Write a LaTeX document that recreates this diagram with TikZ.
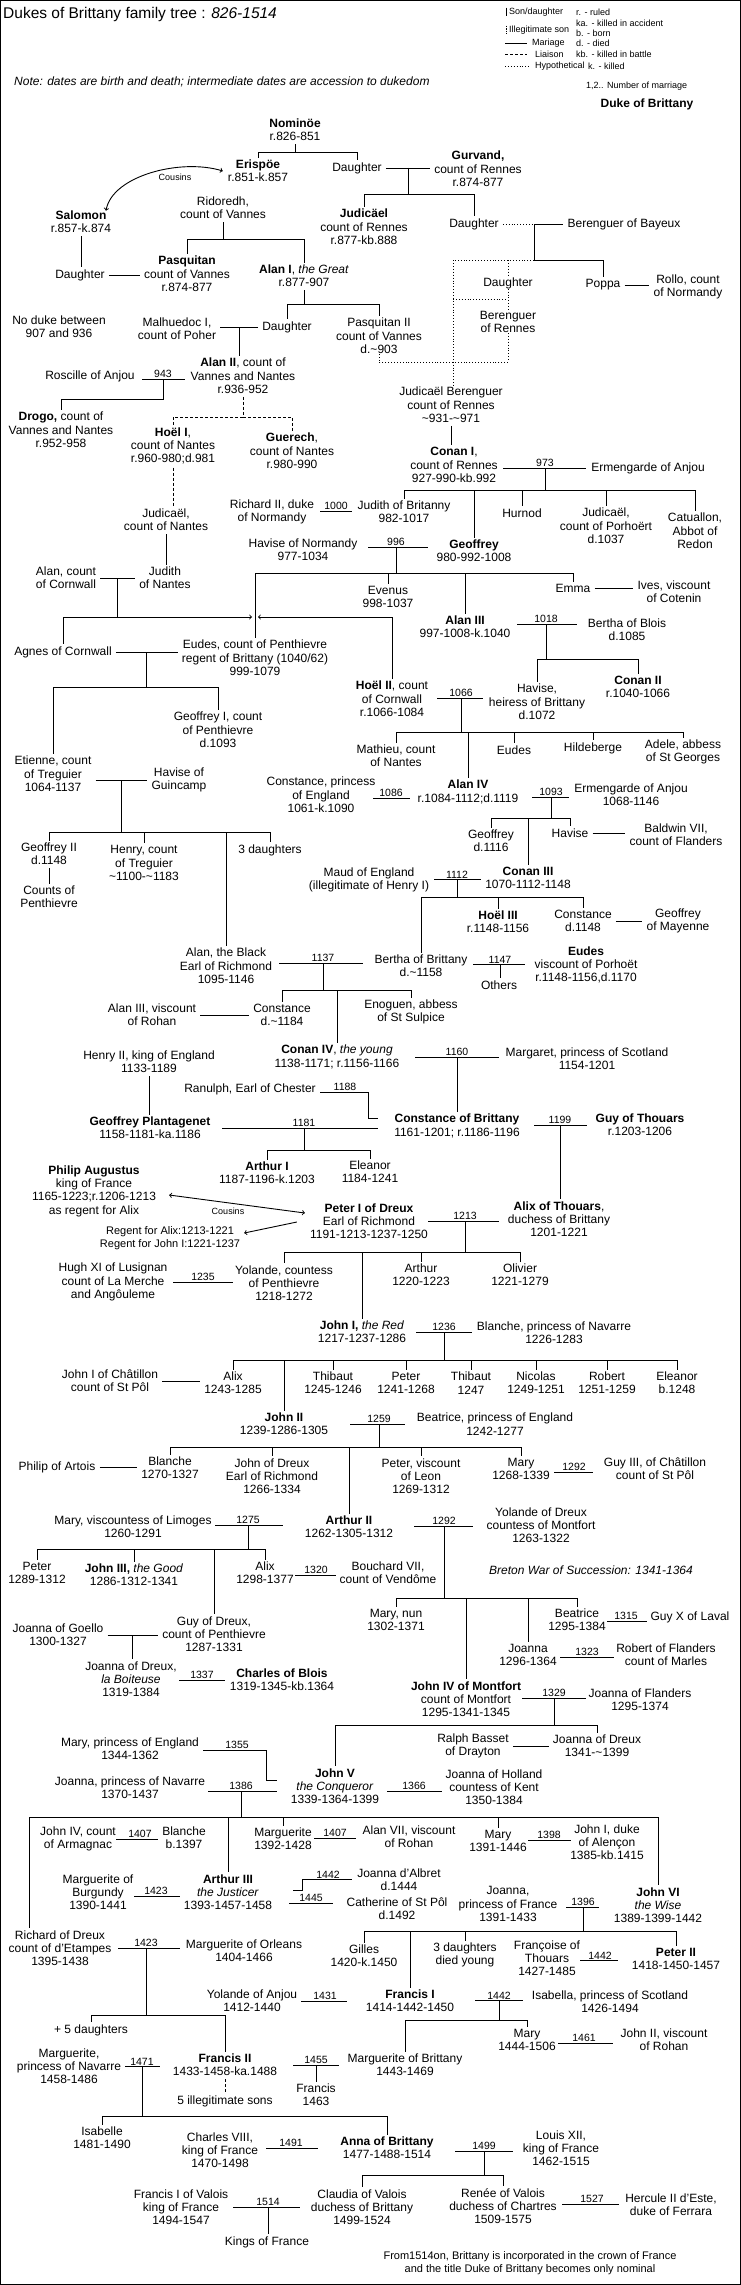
\documentclass[tikz,border=0pt]{standalone}
\usepackage{fontspec}
\setmainfont{Liberation Sans}
\newcommand\nmfont{\fontsize{12}{13.3}\selectfont}
\newcommand\yrfont{\fontsize{10.5}{12}\selectfont}
\newcommand\lgfont{\fontsize{9}{11}\selectfont}
\newcommand\smfont{\fontsize{11}{12.4}\selectfont}
\newcommand\ttlfont{\fontsize{15.5}{18}\selectfont}

\begin{document}
\begin{tikzpicture}[x=1pt, y=-1pt]
\tikzset{person/.style = {align=center, inner sep=0pt, font=\nmfont}}
\tikzset{yr/.style = {anchor=south, inner sep=0.8pt, font=\yrfont}}
\tikzset{legend/.style = {anchor=west, inner sep=0pt, font=\lgfont}}
\tikzset{edge/.style = {line width=0.9pt}}
\tikzset{wed/.style = {edge, shorten <=4pt, shorten >=4pt}}
\tikzset{kin/.style = {edge, shorten <=3pt, shorten >=2pt}}
\tikzset{issue/.style = {edge, shorten >=2pt}}
\tikzset{lkin/.style = {kin, dash pattern=on 3pt off 2pt}}
\tikzset{hypo/.style = {edge, dotted}}
\useasboundingbox (0,0) rectangle (741,2285);
\draw[line width=1pt] (0.5,0.5) rectangle (740.5,2284.5);
% header and legend
\node[anchor=west, inner sep=0pt, font=\ttlfont] (title) at (3,14) {Dukes of Brittany family tree : \textit{826-1514}};
\node[anchor=west, inner sep=0pt, font=\nmfont\itshape] (note) at (14,82) {Note: dates are birth and death; intermediate dates are accession to dukedom};
\node[legend] (lgson) at (509,12) {Son/daughter};
\draw[edge] ([xshift=-3pt]lgson.north west) -- ([xshift=-3pt]lgson.south west);
\node[legend] (lgill) at (509,30) {Illegitimate son};
\draw[edge, dash pattern=on 1.5pt off 1pt] ([xshift=-3pt]lgill.north west) -- ([xshift=-3pt]lgill.south west);
\node[legend] (lgmar) at (532,43) {Mariage};
\draw[edge] ([xshift=-27pt]lgmar.west) -- ([xshift=-5pt]lgmar.west);
\node[legend] (lglia) at (535,54) {Liaison};
\draw[edge, dash pattern=on 3pt off 2pt] ([xshift=-30pt]lglia.west) -- ([xshift=-8pt]lglia.west);
\node[legend] (lghyp) at (535,66) {Hypothetical};
\draw[edge, dotted] ([xshift=-30pt]lghyp.west) -- ([xshift=-5pt]lghyp.west);
\node[legend] (lgr) at (576,12) {r. - ruled};
\node[legend] (lgka) at (576,23) {ka. - killed in accident};
\node[legend] (lgb) at (576,33) {b. - born};
\node[legend] (lgd) at (576,43) {d. - died};
\node[legend] (lgkb) at (576,54) {kb. - killed in battle};
\node[legend] (lgk) at (588,66) {k. - killed};
\node[legend] (lgnum) at (586,86) {1,2.. Number of marriage};
\node[person] (lgduke) at (647,104) {\textbf{Duke of Brittany}};
% persons
\node[person] (nominoe) at (295,130) {\textbf{Nominöe}\\r.826-851};
\node[person] (erispoe) at (258,171) {\textbf{Erispöe}\\r.851-k.857};
\node[person] (daughtera) at (357,168) {Daughter};
\node[person] (gurvand) at (478,169) {\textbf{Gurvand,}\\count of Rennes\\r.874-877};
\node[person] (salomon) at (81,222) {\textbf{Salomon}\\r.857-k.874};
\node[person] (ridoredh) at (223,208) {Ridoredh,\\count of Vannes};
\node[person] (judicael) at (364,227) {\textbf{Judicäel}\\count of Rennes\\r.877-kb.888};
\node[person] (daughterb) at (474,224) {Daughter};
\node[person] (berenguerb) at (624,224) {Berenguer of Bayeux};
\node[person] (daughters) at (80,275) {Daughter};
\node[person] (pasquitan) at (187,274) {\textbf{Pasquitan}\\count of Vannes\\r.874-877};
\node[person] (alan1) at (304,276) {\textbf{Alan I}, \textit{the Great}\\r.877-907};
\node[person] (daughterc) at (508,283) {Daughter};
\node[person] (poppa) at (603,285) {Poppa};
\node[person] (rollo) at (688,287) {Rollo, count\\of Normandy};
\node[person] (nodukes) at (59,327) {No duke between\\907 and 936};
\node[person] (malhuedoc) at (177,329) {Malhuedoc I,\\count of Poher};
\node[person] (daughterd) at (287,327) {Daughter};
\node[person] (pasquitan2) at (379,336) {Pasquitan II\\count of Vannes\\d.\textasciitilde903};
\node[person] (berengerr) at (508,322) {Berenguer\\of Rennes};
\node[person] (roscille) at (90,376) {Roscille of Anjou};
\node[person] (alan2) at (243,376) {\textbf{Alan II}, count of\\Vannes and Nantes\\r.936-952};
\node[person] (judber) at (451,405) {Judicaël Berenguer\\count of Rennes\\\textasciitilde931-\textasciitilde971};
\node[person] (drogo) at (61,430) {\textbf{Drogo,} count of\\Vannes and Nantes\\r.952-958};
\node[person] (hoel1) at (173,446) {\textbf{Hoël I},\\count of Nantes\\r.960-980;d.981};
\node[person] (guerech) at (292,451) {\textbf{Guerech},\\count of Nantes\\r.980-990};
\node[person] (conan1) at (454,465) {\textbf{Conan I},\\count of Rennes\\927-990-kb.992};
\node[person] (ermengardea) at (648,468) {Ermengarde of Anjou};
\node[person] (richard2) at (272,512) {Richard II, duke\\of Normandy};
\node[person] (judithb) at (404,512) {Judith of Britanny\\982-1017};
\node[person] (hurnod) at (522,513) {Hurnod};
\node[person] (judpor) at (606,526) {Judicaël,\\count of Porhoërt\\d.1037};
\node[person] (catuallon) at (695,531) {Catuallon,\\Abbot of\\Redon};
\node[person] (havisen) at (303,550) {Havise of Normandy\\977-1034};
\node[person] (geoffrey) at (474,551) {\textbf{Geoffrey}\\980-992-1008};
\node[person] (judnan) at (166,520) {Judicaël,\\count of Nantes};
\node[person] (alanc) at (66,578) {Alan, count\\of Cornwall};
\node[person] (judithn) at (165,578) {Judith\\of Nantes};
\node[person] (evenus) at (388,597) {Evenus\\998-1037};
\node[person] (emma) at (573,588) {Emma};
\node[person] (ives) at (674,592) {Ives, viscount\\of Cotenin};
\node[person] (alan3) at (465,627) {\textbf{Alan III}\\997-1008-k.1040};
\node[person] (bertha) at (627,630) {Bertha of Blois\\d.1085};
\node[person] (agnes) at (63,652) {Agnes of Cornwall};
\node[person] (eudesp) at (255,658) {Eudes, count of Penthievre\\regent of Brittany (1040/62)\\999-1079};
\node[person] (conan2) at (638,687) {\textbf{Conan II}\\r.1040-1066};
\node[person] (hoel2) at (392,699) {\textbf{Hoël II}, count\\of Cornwall\\r.1066-1084};
\node[person] (havise) at (537,702) {Havise,\\heiress of Brittany\\d.1072};
\node[person] (geoffrey1) at (218,730) {Geoffrey I, count\\of Penthievre\\d.1093};
\node[person] (mathieu) at (396,756) {Mathieu, count\\of Nantes};
\node[person] (eudes) at (514,750) {Eudes};
\node[person] (hildeberge) at (593,748) {Hildeberge};
\node[person] (adele) at (683,752) {Adele, abbess\\of St Georges};
\node[person] (etienne) at (53,774) {Etienne, count\\of Treguier\\1064-1137};
\node[person] (haviseg) at (179,780) {Havise of\\Guincamp};
\node[person] (constancee) at (321,795) {Constance, princess\\of England\\1061-k.1090};
\node[person] (alan4) at (468,792) {\textbf{Alan IV}\\r.1084-1112;d.1119};
\node[person] (ermengardeb) at (631,795) {Ermengarde of Anjou\\1068-1146};
\node[person] (geoffrey2) at (49,854) {Geoffrey II\\d.1148};
\node[person] (henry) at (144,863) {Henry, count\\of Treguier\\\textasciitilde1100-\textasciitilde1183};
\node[person] (daughters3) at (270,850) {3 daughters};
\node[person] (geoffreyd) at (491,841) {Geoffrey\\d.1116};
\node[person] (havisef) at (570,833) {Havise};
\node[person] (baldwin) at (676,835) {Baldwin VII,\\count of Flanders};
\node[person] (conan3) at (528,878) {\textbf{Conan III}\\1070-1112-1148};
\node[person] (maud) at (369,880) {Maud of England\\(illegitimate of Henry I)};
\node[person] (countsp) at (49,897) {Counts of\\Penthievre};
\node[person] (hoel3) at (498,922) {\textbf{Hoël III}\\r.1148-1156};
\node[person] (constanced) at (583,921) {Constance\\d.1148};
\node[person] (geoffreym) at (678,921) {Geoffrey\\of Mayenne};
\node[person] (alanb) at (226,966) {Alan, the Black\\Earl of Richmond\\1095-1146};
\node[person] (berthab) at (421,966) {Bertha of Brittany\\d.\textasciitilde1158};
\node[person] (eudesv) at (586,965) {\textbf{Eudes}\\viscount of Porhoët\\r.1148-1156,d.1170};
\node[person] (others) at (499,985) {Others};
\node[person] (alan3r) at (152,1015) {Alan III, viscount\\of Rohan};
\node[person] (constancer) at (282,1015) {Constance\\d.\textasciitilde1184};
\node[person] (enoguen) at (411,1012) {Enoguen, abbess\\of St Sulpice};
\node[person] (conan4) at (337,1057) {\textbf{Conan IV}, \textit{the young}\\1138-1171; r.1156-1166};
\node[person] (margaret) at (587,1059) {Margaret, princess of Scotland\\1154-1201};
\node[person] (henry2) at (149,1062) {Henry II, king of England\\1133-1189};
\node[person] (ranulph) at (250,1089) {Ranulph, Earl of Chester};
\node[person] (geoffreyp) at (150,1128) {\textbf{Geoffrey Plantagenet}\\1158-1181-ka.1186};
\node[person] (constanceb) at (457,1126) {\textbf{Constance of Brittany}\\1161-1201; r.1186-1196};
\node[person] (guy) at (640,1125) {\textbf{Guy of Thouars}\\r.1203-1206};
\node[person] (arthur1) at (267,1173) {\textbf{Arthur I}\\1187-1196-k.1203};
\node[person] (eleanor) at (370,1172) {Eleanor\\1184-1241};
\node[person] (philip) at (94,1191) {\textbf{Philip Augustus}\\king of France\\1165-1223;r.1206-1213\\as regent for Alix};
\node[person, font=\smfont] (regent) at (170,1238) {Regent for Alix:1213-1221\\Regent for John I:1221-1237};
\node[person] (peter1) at (369,1221) {\textbf{Peter I of Dreux}\\Earl of Richmond\\1191-1213-1237-1250};
\node[person] (alix) at (559,1219) {\textbf{Alix of Thouars},\\duchess of Brittany\\1201-1221};
\node[person] (hugh) at (113,1282) {Hugh XI of Lusignan\\count of La Merche\\and Angôuleme};
\node[person] (yolande) at (284,1283) {Yolande, countess\\of Penthievre\\1218-1272};
\node[person] (arthur) at (421,1275) {Arthur\\1220-1223};
\node[person] (olivier) at (520,1275) {Olivier\\1221-1279};
\node[person] (john1) at (362,1332) {\textbf{John I,} \textit{the Red}\\1217-1237-1286};
\node[person] (blanchen) at (554,1333) {Blanche, princess of Navarre\\1226-1283};
\node[person] (johnc) at (110,1381) {John I of Châtillon\\count of St Pôl};
\node[person] (alixb) at (233,1383) {Alix\\1243-1285};
\node[person] (thibauta) at (333,1383) {Thibaut\\1245-1246};
\node[person] (peterb) at (406,1383) {Peter\\1241-1268};
\node[person] (thibautb) at (471,1383) {Thibaut\\1247};
\node[person] (nicolas) at (536,1383) {Nicolas\\1249-1251};
\node[person] (robert) at (607,1383) {Robert\\1251-1259};
\node[person] (eleanorb) at (677,1383) {Eleanor\\b.1248};
\node[person] (john2) at (284,1424) {\textbf{John II}\\1239-1286-1305};
\node[person] (beatrice) at (495,1424) {Beatrice, princess of England\\1242-1277};
\node[person] (philipa) at (57,1467) {Philip of Artois};
\node[person] (blanche) at (170,1468) {Blanche\\1270-1327};
\node[person] (johnd) at (272,1476) {John of Dreux\\Earl of Richmond\\1266-1334};
\node[person] (peterv) at (421,1476) {Peter, viscount\\of Leon\\1269-1312};
\node[person] (mary) at (521,1469) {Mary\\1268-1339};
\node[person] (guy3) at (655,1469) {Guy III, of Châtillon\\count of St Pôl};
\node[person] (maryl) at (133,1527) {Mary, viscountess of Limoges\\1260-1291};
\node[person] (arthur2) at (349,1527) {\textbf{Arthur II}\\1262-1305-1312};
\node[person] (yolanded) at (541,1525) {Yolande of Dreux\\countess of Montfort\\1263-1322};
\node[person] (peterc) at (37,1573) {Peter\\1289-1312};
\node[person] (john3) at (134,1575) {\textbf{John III,} \textit{the Good}\\1286-1312-1341};
\node[person] (alixc) at (265,1573) {Alix\\1298-1377};
\node[person] (bouchard) at (388,1573) {Bouchard VII,\\count of Vendôme};
\node[person] (breton) at (591,1570) {\textit{Breton War of Succession: 1341-1364}};
\node[person] (marynun) at (396,1620) {Mary, nun\\1302-1371};
\node[person] (beatriceb) at (577,1620) {Beatrice\\1295-1384};
\node[person] (guyx) at (690,1617) {Guy X of Laval};
\node[person] (guyd) at (214,1634) {Guy of Dreux,\\count of Penthievre\\1287-1331};
\node[person] (joannag) at (58,1635) {Joanna of Goello\\1300-1327};
\node[person] (joannab) at (528,1655) {Joanna\\1296-1364};
\node[person] (robertf) at (666,1655) {Robert of Flanders\\count of Marles};
\node[person] (joannad) at (131,1679) {Joanna of Dreux,\\\textit{la Boiteuse}\\1319-1384};
\node[person] (charles) at (282,1680) {\textbf{Charles of Blois}\\1319-1345-kb.1364};
\node[person] (john4) at (466,1699) {\textbf{John IV of Montfort}\\count of Montfort\\1295-1341-1345};
\node[person] (joannaf) at (640,1700) {Joanna of Flanders\\1295-1374};
\node[person] (ralph) at (473,1746) {Ralph Basset\\of Drayton};
\node[person] (joannadr) at (597,1746) {Joanna of Dreux\\1341-\textasciitilde1399};
\node[person] (marye) at (130,1749) {Mary, princess of England\\1344-1362};
\node[person] (joannan) at (130,1788) {Joanna, princess of Navarre\\1370-1437};
\node[person] (john5) at (335,1786) {\textbf{John V}\\\textit{the Conqueror}\\1339-1364-1399};
\node[person] (joannah) at (494,1787) {Joanna of Holland\\countess of Kent\\1350-1384};
\node[person] (john4a) at (78,1839) {John IV, count\\of Armagnac};
\node[person] (blancheb) at (184,1838) {Blanche\\b.1397};
\node[person] (marguerite) at (283,1839) {Marguerite\\1392-1428};
\node[person] (alan7) at (409,1837) {Alan VII, viscount\\of Rohan};
\node[person] (marya) at (498,1841) {Mary\\1391-1446};
\node[person] (john1a) at (607,1842) {John I, duke\\of Alençon\\1385-kb.1415};
\node[person] (margueriteb) at (98,1892) {Marguerite of\\Burgundy\\1390-1441};
\node[person] (arthur3) at (228,1892) {\textbf{Arthur III}\\\textit{the Justicer}\\1393-1457-1458};
\node[person] (joannaa) at (399,1880) {Joanna d’Albret\\d.1444};
\node[person] (catherine) at (397,1909) {Catherine of St Pôl\\d.1492};
\node[person] (joannafr) at (508,1904) {Joanna,\\princess of France\\1391-1433};
\node[person] (john6) at (658,1905) {\textbf{John VI}\\\textit{the Wise}\\1389-1399-1442};
\node[person] (richard) at (60,1948) {Richard of Dreux\\count of d’Etampes\\1395-1438};
\node[person] (margueriteo) at (244,1951) {Marguerite of Orleans\\1404-1466};
\node[person] (gilles) at (364,1956) {Gilles\\1420-k.1450};
\node[person] (daughters3b) at (465,1955) {3 daughters\\died young};
\node[person] (francoise) at (547,1958) {Françoise of\\Thouars\\1427-1485};
\node[person] (peter2) at (676,1959) {\textbf{Peter II}\\1418-1450-1457};
\node[person] (yolandea) at (252,2001) {Yolande of Anjou\\1412-1440};
\node[person] (francis1) at (410,2001) {\textbf{Francis I}\\1414-1442-1450};
\node[person] (isabella) at (610,2002) {Isabella, princess of Scotland\\1426-1494};
\node[person] (daughters5) at (91,2030) {+ 5 daughters};
\node[person] (marya2) at (527,2040) {Mary\\1444-1506};
\node[person] (john2r) at (664,2040) {John II, viscount\\of Rohan};
\node[person] (margueriten) at (69,2066) {Marguerite,\\princess of Navarre\\1458-1486};
\node[person] (francis2) at (225,2065) {\textbf{Francis II}\\1433-1458-ka.1488};
\node[person] (margueritebr) at (405,2065) {Marguerite of Brittany\\1443-1469};
\node[person] (francis) at (316,2095) {Francis\\1463};
\node[person] (illeg) at (225,2101) {5 illegitimate sons};
\node[person] (isabelle) at (102,2138) {Isabelle\\1481-1490};
\node[person] (charles8) at (220,2150) {Charles VIII,\\king of France\\1470-1498};
\node[person] (anna) at (387,2148) {\textbf{Anna of Brittany}\\1477-1488-1514};
\node[person] (louis) at (561,2148) {Louis XII,\\king of France\\1462-1515};
\node[person] (francisv) at (181,2207) {Francis I of Valois\\king of France\\1494-1547};
\node[person] (claudia) at (362,2207) {Claudia of Valois\\duchess of Brittany\\1499-1524};
\node[person] (renee) at (503,2206) {Renée of Valois\\duchess of Chartres\\1509-1575};
\node[person] (hercule) at (671,2205) {Hercule II d’Este,\\duke of Ferrara};
\node[person] (kings) at (267,2242) {Kings of France};
\node[person, font=\smfont] (footer) at (530,2263) {From1514on, Brittany is incorporated in the crown of France\\and the title Duke of Brittany becomes only nominal};
% cousins
\draw[edge, <->] ([xshift=25pt]salomon.north) .. controls +(6,-35) and +(-42,-13) .. ([xshift=-5pt]erispoe.west);
\node[person, font=\lgfont] (cousinsa) at (175,177) {Cousins};
\draw[edge, <->] ([shift={(13pt,-4pt)}]philip.east) -- ([shift={(-5pt,8pt)}]peter1.west);
\node[person, font=\lgfont] (cousinsb) at (228,1211) {Cousins};
\draw[edge, ->] ([shift={(-13pt,-1pt)}]peter1.west) -- ([shift={(4pt,5pt)}]regent.east);
% marriages
\node[yr] (y943) at (163,379) {943};
\draw[edge] ([xshift=-21pt]y943.south) -- ([xshift=22pt]y943.south);
\node[yr] (y973) at (545,468) {973};
\draw[edge] ([xshift=-42pt]y973.south) -- ([xshift=41pt]y973.south);
\node[yr] (y1000) at (336,511) {1000};
\draw[edge] ([xshift=-16pt]y1000.south) -- ([xshift=16pt]y1000.south);
\node[yr] (y996) at (396,547) {996};
\draw[edge] ([xshift=-28pt]y996.south) -- ([xshift=32pt]y996.south);
\node[yr] (y1018) at (546,624) {1018};
\draw[edge] ([xshift=-29pt]y1018.south) -- ([xshift=31pt]y1018.south);
\node[yr] (y1066) at (461,698) {1066};
\draw[edge] ([xshift=-24pt]y1066.south) -- ([xshift=22pt]y1066.south);
\node[yr] (y1086) at (391,798) {1086};
\draw[edge] ([xshift=-18pt]y1086.south) -- ([xshift=19pt]y1086.south);
\node[yr] (y1093) at (551,797) {1093};
\draw[edge] ([xshift=-19pt]y1093.south) -- ([xshift=18pt]y1093.south);
\node[yr] (y1112) at (457,879) {1112};
\draw[edge] ([xshift=-23pt]y1112.south) -- ([xshift=24pt]y1112.south);
\node[yr] (y1137) at (323,963) {1137};
\draw[edge] ([xshift=-44pt]y1137.south) -- ([xshift=40pt]y1137.south);
\node[yr] (y1147) at (500,964) {1147};
\draw[edge] ([xshift=-27pt]y1147.south) -- ([xshift=25pt]y1147.south);
\node[yr] (y1160) at (457,1057) {1160};
\draw[edge] ([xshift=-42pt]y1160.south) -- ([xshift=42pt]y1160.south);
\node[yr] (y1188) at (345,1092) {1188};
\draw[edge] ([xshift=-25pt]y1188.south) -- ++(48,0) -- ++(0,26) -- ++(10,0);
\node[yr] (y1181) at (304,1128) {1181};
\draw[edge] ([xshift=-82pt]y1181.south) -- ([xshift=74pt]y1181.south);
\node[yr] (y1199) at (560,1125) {1199};
\draw[edge] ([xshift=-26pt]y1199.south) -- ([xshift=27pt]y1199.south);
\node[yr] (y1213) at (465,1221) {1213};
\draw[edge] ([xshift=-37pt]y1213.south) -- ([xshift=34pt]y1213.south);
\node[yr] (y1235) at (203,1282) {1235};
\draw[edge] ([xshift=-30pt]y1235.south) -- ([xshift=30pt]y1235.south);
\node[yr] (y1236) at (444,1332) {1236};
\draw[edge] ([xshift=-28pt]y1236.south) -- ([xshift=28pt]y1236.south);
\node[yr] (y1259) at (379,1424) {1259};
\draw[edge] ([xshift=-29pt]y1259.south) -- ([xshift=26pt]y1259.south);
\node[yr] (y1292a) at (574,1472) {1292};
\draw[edge] ([xshift=-20pt]y1292a.south) -- ([xshift=19pt]y1292a.south);
\node[yr] (y1275) at (248,1525) {1275};
\draw[edge] ([xshift=-33pt]y1275.south) -- ([xshift=35pt]y1275.south);
\node[yr] (y1292b) at (444,1526) {1292};
\draw[edge] ([xshift=-30pt]y1292b.south) -- ([xshift=29pt]y1292b.south);
\node[yr] (y1320) at (316,1575) {1320};
\draw[edge] ([xshift=-21pt]y1320.south) -- ([xshift=20pt]y1320.south);
\node[yr] (y1315) at (626,1621) {1315};
\draw[edge] ([xshift=-19pt]y1315.south) -- ([xshift=21pt]y1315.south);
\node[yr] (y1323) at (587,1657) {1323};
\draw[edge] ([xshift=-27pt]y1323.south) -- ([xshift=27pt]y1323.south);
\node[yr] (y1337) at (202,1680) {1337};
\draw[edge] ([xshift=-23pt]y1337.south) -- ([xshift=23pt]y1337.south);
\node[yr] (y1329) at (554,1698) {1329};
\draw[edge] ([xshift=-32pt]y1329.south) -- ([xshift=32pt]y1329.south);
\node[yr] (y1355) at (237,1750) {1355};
\draw[edge] ([xshift=-34pt]y1355.south) -- ++(63,0) -- ++(0,30) -- ++(11,0);
\node[yr] (y1386) at (241,1791) {1386};
\draw[edge] ([xshift=-33pt]y1386.south) -- ([xshift=36pt]y1386.south);
\node[yr] (y1366) at (414,1791) {1366};
\draw[edge] ([xshift=-27pt]y1366.south) -- ([xshift=28pt]y1366.south);
\node[yr] (y1407a) at (140,1839) {1407};
\draw[edge] ([xshift=-24pt]y1407a.south) -- ([xshift=18pt]y1407a.south);
\node[yr] (y1407b) at (335,1838) {1407};
\draw[edge] ([xshift=-21pt]y1407b.south) -- ([xshift=21pt]y1407b.south);
\node[yr] (y1398) at (549,1840) {1398};
\draw[edge] ([xshift=-21pt]y1398.south) -- ([xshift=22pt]y1398.south);
\node[yr] (y1423a) at (156,1896) {1423};
\draw[edge] ([xshift=-22pt]y1423a.south) -- ([xshift=24pt]y1423a.south);
\node[yr] (y1442a) at (328,1879) {1442};
\draw[edge] ([xshift=-35pt, yshift=-11pt]y1442a.south) -- ++(9,0) -- ++(0,-11) -- ++(50,0);
\node[yr] (y1445) at (311,1903) {1445};
\draw[edge] ([xshift=-22pt]y1445.south) -- ([xshift=22pt]y1445.south);
\node[yr] (y1396) at (583,1907) {1396};
\draw[edge] ([xshift=-17pt]y1396.south) -- ([xshift=16pt]y1396.south);
\node[yr] (y1442b) at (600,1960) {1442};
\draw[edge] ([xshift=-20pt]y1442b.south) -- ([xshift=18pt]y1442b.south);
\node[yr] (y1423b) at (146,1948) {1423};
\draw[edge] ([xshift=-28pt]y1423b.south) -- ([xshift=34pt]y1423b.south);
\node[yr] (y1431) at (325,2001) {1431};
\draw[edge] ([xshift=-24pt]y1431.south) -- ([xshift=22pt]y1431.south);
\node[yr] (y1442c) at (499,2000) {1442};
\draw[edge] ([xshift=-24pt]y1442c.south) -- ([xshift=24pt]y1442c.south);
\node[yr] (y1461) at (584,2043) {1461};
\draw[edge] ([xshift=-26pt]y1461.south) -- ([xshift=29pt]y1461.south);
\node[yr] (y1455) at (316,2065) {1455};
\draw[edge] ([xshift=-23pt]y1455.south) -- ([xshift=23pt]y1455.south);
\node[yr] (y1471) at (142,2066) {1471};
\draw[edge] ([xshift=-17pt]y1471.south) -- ([xshift=18pt]y1471.south);
\node[yr] (y1491) at (291,2148) {1491};
\draw[edge] ([xshift=-25pt]y1491.south) -- ([xshift=27pt]y1491.south);
\node[yr] (y1499) at (484,2151) {1499};
\draw[edge] ([xshift=-29pt]y1499.south) -- ([xshift=29pt]y1499.south);
\node[yr] (y1527) at (592,2204) {1527};
\draw[edge] ([xshift=-30pt]y1527.south) -- ([xshift=27pt]y1527.south);
\node[yr] (y1514) at (268,2207) {1514};
\draw[edge] ([xshift=-35pt]y1514.south) -- ([xshift=32pt]y1514.south);
% marriages without a date
\draw[wed] (daughtera.east) -- coordinate (wgurv) (daughtera.east -| gurvand.west);
\draw[wed] (daughters.east) -- (daughters.east -| pasquitan.west);
\draw[wed] (poppa.east) -- (poppa.east -| rollo.west);
\draw[wed] (daughterd.west) -- coordinate (wmal) (daughterd.west -| malhuedoc.east);
\draw[wed] (alanc.east) -- coordinate (walanc) (alanc.east -| judithn.west);
\draw[wed] (emma.east) -- (emma.east -| ives.west);
\draw[wed] (agnes.east) -- coordinate (wagnes) (agnes.east -| eudesp.west);
\draw[wed] (etienne.east |- haviseg.west) -- coordinate (wetienne) (haviseg.west);
\draw[wed] (havisef.east) -- (havisef.east -| baldwin.west);
\draw[wed] (constanced.east) -- (constanced.east -| geoffreym.west);
\draw[wed] (alan3r.east) -- (alan3r.east -| constancer.west);
\draw[wed] (johnc.east) -- (johnc.east -| alixb.west);
\draw[wed] (philipa.east) -- (philipa.east -| blanche.west);
\draw[wed] (joannag.east) -- coordinate (wguyd) (joannag.east -| guyd.west);
\draw[wed] (ralph.east) -- (ralph.east -| joannadr.west);
% hypothetical descent
\coordinate (wbay) at (534,224);
\coordinate (hypa) at (453,260);
\draw[hypo, shorten <=4pt] (daughterb.east) -- (wbay);
\draw[edge, shorten >=4pt] (wbay) -- (wbay -| berenguerb.west);
\draw[issue] (wbay) -- (wbay |- hypa) -| (poppa.north);
\draw[hypo] (wbay |- hypa) -- (hypa) -- (hypa |- judber.north);
\draw[hypo] (daughterc.north |- hypa) -- (daughterc.north);
\draw[hypo] (daughterc.south) -- (berengerr.north);
\draw[hypo] (hypa |- 0,299) -- (berengerr.north |- 0,299);
\draw[hypo] (berengerr.south) -- (berengerr.south |- 0,362) -- (pasquitan2.south |- 0,362) -- (pasquitan2.south);
% descent
\draw[kin] (nominoe.south) -- (nominoe.south |- 0,152) -| (erispoe.north);
\draw[kin] (nominoe.south) -- (nominoe.south |- 0,152) -| (daughtera.north);
\draw[issue] (wgurv) -- (wgurv |- 0,194) -| (judicael.north);
\draw[issue] (wgurv) -- (wgurv |- 0,194) -| (daughterb.north);
\draw[kin] (ridoredh.south) -- (ridoredh.south |- 0,239) -| (pasquitan.north);
\draw[kin] (ridoredh.south) -- (ridoredh.south |- 0,239) -| (alan1.north);
\draw[kin] (salomon.south) -- (salomon.south |- daughters.north);
\draw[kin] (alan1.south) -- (alan1.south |- 0,304) -| (daughterd.north);
\draw[kin] (alan1.south) -- (alan1.south |- 0,304) -| (pasquitan2.north);
\draw[issue] (wmal) -- (wmal |- alan2.north);
\draw[issue] (y943.south) -- (y943.south |- 0,399) -| (drogo.north);
\draw[lkin] (alan2.south) -- (alan2.south |- 0,417) -| (hoel1.north);
\draw[lkin] (alan2.south) -- (alan2.south |- 0,417) -| (guerech.north);
\draw[lkin] (hoel1.south) -- (hoel1.south |- judnan.north);
\draw[kin] (judnan.south) -- (judnan.south |- judithn.north);
\draw[kin] (judber.south) -- (judber.south |- conan1.north);
\draw[issue] (y973.south) -- (y973.south |- 0,490) -| (judithb.north);
\draw[issue] (y973.south) -- (y973.south |- 0,490) -| (geoffrey.north);
\draw[issue] (y973.south) -- (y973.south |- 0,490) -| (hurnod.north);
\draw[issue] (y973.south) -- (y973.south |- 0,490) -| (judpor.north);
\draw[issue] (y973.south) -- (y973.south |- 0,490) -| (catuallon.north);
\draw[issue] (y996.south) -- (y996.south |- 0,573) -| (eudesp.north);
\draw[issue] (y996.south) -- (y996.south |- 0,573) -| (evenus.north);
\draw[issue] (y996.south) -- (y996.south |- 0,573) -| (alan3.north);
\draw[issue] (y996.south) -- (y996.south |- 0,573) -| (emma.north);
\draw[issue] (walanc) -- (walanc |- 0,617) -| (agnes.north);
\draw[edge, ->, shorten >=3pt] (walanc |- 0,617) -- (eudesp.north |- 0,617);
\draw[edge, ->, shorten <=2pt, shorten >=3pt] (hoel2.north) |- (eudesp.north |- 0,617);
\draw[issue] (y1018.south) -- (y1018.south |- 0,659) -| (havise.north);
\draw[issue] (y1018.south) -- (y1018.south |- 0,659) -| (conan2.north);
\draw[issue] (wagnes) -- (wagnes |- 0,687) -| (etienne.north);
\draw[issue] (wagnes) -- (wagnes |- 0,687) -| (geoffrey1.north);
\draw[issue] (y1066.south) -- (y1066.south |- 0,732) -| (mathieu.north);
\draw[issue] (y1066.south) -- (y1066.south |- 0,732) -| (alan4.north);
\draw[issue] (y1066.south) -- (y1066.south |- 0,732) -| (eudes.north);
\draw[issue] (y1066.south) -- (y1066.south |- 0,732) -| (hildeberge.north);
\draw[issue] (y1066.south) -- (y1066.south |- 0,732) -| (adele.north);
\draw[issue] (wetienne) -- (wetienne |- 0,832) -| (geoffrey2.north);
\draw[issue] (wetienne) -- (wetienne |- 0,832) -| (henry.north);
\draw[issue] (wetienne) -- (wetienne |- 0,832) -| (alanb.north);
\draw[issue] (wetienne) -- (wetienne |- 0,832) -| (daughters3.north);
\draw[kin] (geoffrey2.south) -- (geoffrey2.south |- countsp.north);
\draw[issue] (y1093.south) -- (y1093.south |- 0,818) -| (geoffreyd.north);
\draw[issue] (y1093.south) -- (y1093.south |- 0,818) -| (conan3.north);
\draw[issue] (y1093.south) -- (y1093.south |- 0,818) -| (havisef.north);
\draw[issue] (y1112.south) -- (y1112.south |- 0,897) -| (berthab.north);
\draw[issue] (y1112.south) -- (y1112.south |- 0,897) -| (hoel3.north);
\draw[issue] (y1112.south) -- (y1112.south |- 0,897) -| (constanced.north);
\draw[issue] (y1137.south) -- (y1137.south |- 0,990) -| (constancer.north);
\draw[issue] (y1137.south) -- (y1137.south |- 0,990) -| (conan4.north);
\draw[issue] (y1137.south) -- (y1137.south |- 0,990) -| (enoguen.north);
\draw[issue] (y1147.south) -- (y1147.south |- others.north);
\draw[issue] (y1160.south) -- (y1160.south |- constanceb.north);
\draw[kin] (henry2.south) -- (henry2.south |- geoffreyp.north);
\draw[issue] (y1181.south) -- (y1181.south |- 0,1150) -| (arthur1.north);
\draw[issue] (y1181.south) -- (y1181.south |- 0,1150) -| (eleanor.north);
\draw[issue] (y1199.south) -- (y1199.south |- alix.north);
\draw[issue] (y1213.south) -- (y1213.south |- 0,1252) -| (yolande.north);
\draw[issue] (y1213.south) -- (y1213.south |- 0,1252) -| (john1.north);
\draw[issue] (y1213.south) -- (y1213.south |- 0,1252) -| (arthur.north);
\draw[issue] (y1213.south) -- (y1213.south |- 0,1252) -| (olivier.north);
\draw[issue] (y1236.south) -- (y1236.south |- 0,1360) -| (alixb.north);
\draw[issue] (y1236.south) -- (y1236.south |- 0,1360) -| (john2.north);
\draw[issue] (y1236.south) -- (y1236.south |- 0,1360) -| (thibauta.north);
\draw[issue] (y1236.south) -- (y1236.south |- 0,1360) -| (peterb.north);
\draw[issue] (y1236.south) -- (y1236.south |- 0,1360) -| (thibautb.north);
\draw[issue] (y1236.south) -- (y1236.south |- 0,1360) -| (nicolas.north);
\draw[issue] (y1236.south) -- (y1236.south |- 0,1360) -| (robert.north);
\draw[issue] (y1236.south) -- (y1236.south |- 0,1360) -| (eleanorb.north);
\draw[issue] (y1259.south) -- (y1259.south |- 0,1447) -| (blanche.north);
\draw[issue] (y1259.south) -- (y1259.south |- 0,1447) -| (johnd.north);
\draw[issue] (y1259.south) -- (y1259.south |- 0,1447) -| (arthur2.north);
\draw[issue] (y1259.south) -- (y1259.south |- 0,1447) -| (peterv.north);
\draw[issue] (y1259.south) -- (y1259.south |- 0,1447) -| (mary.north);
\draw[issue] (y1275.south) -- (y1275.south |- 0,1549) -| (peterc.north);
\draw[issue] (y1275.south) -- (y1275.south |- 0,1549) -| (john3.north);
\draw[issue] (y1275.south) -- (y1275.south |- 0,1549) -| (guyd.north);
\draw[issue] (y1275.south) -- (y1275.south |- 0,1549) -| (alixc.north);
\draw[issue] (y1292b.south) -- (y1292b.south |- 0,1598) -| (marynun.north);
\draw[issue] (y1292b.south) -- (y1292b.south |- 0,1598) -| (john4.north);
\draw[issue] (y1292b.south) -- (y1292b.south |- 0,1598) -| (joannab.north);
\draw[issue] (y1292b.south) -- (y1292b.south |- 0,1598) -| (beatriceb.north);
\draw[issue] (wguyd) -- (wguyd |- joannad.north);
\draw[issue] (y1329.south) -- (y1329.south |- 0,1725) -| (john5.north);
\draw[issue] (y1329.south) -- (y1329.south |- 0,1725) -| (joannadr.north);
\draw[issue] (y1386.south) -- (y1386.south |- 0,1817) -| ([xshift=-31pt]richard.north);
\draw[issue] (y1386.south) -- (y1386.south |- 0,1817) -| (arthur3.north);
\draw[issue] (y1386.south) -- (y1386.south |- 0,1817) -| (marguerite.north);
\draw[issue] (y1386.south) -- (y1386.south |- 0,1817) -| (marya.north);
\draw[issue] (y1386.south) -- (y1386.south |- 0,1817) -| (john6.north);
\draw[issue] (y1396.south) -- (y1396.south |- 0,1931) -| (gilles.north);
\draw[issue] (y1396.south) -- (y1396.south |- 0,1931) -| (francis1.north);
\draw[issue] (y1396.south) -- (y1396.south |- 0,1931) -| (daughters3b.north);
\draw[issue] (y1396.south) -- (y1396.south |- 0,1931) -| (peter2.north);
\draw[issue] (y1423b.south) -- (y1423b.south |- 0,2015) -| (daughters5.north);
\draw[issue] (y1423b.south) -- (y1423b.south |- 0,2015) -| (francis2.north);
\draw[issue] (y1442c.south) -- (y1442c.south |- 0,2020) -| (margueritebr.north);
\draw[issue] (y1442c.south) -- (y1442c.south |- 0,2020) -| (marya2.north);
\draw[issue] (y1455.south) -- (y1455.south |- francis.north);
\draw[lkin] (francis2.south) -- (francis2.south |- illeg.north);
\draw[issue] (y1471.south) -- (y1471.south |- 0,2116) -| (isabelle.north);
\draw[issue] (y1471.south) -- (y1471.south |- 0,2116) -| (anna.north);
\draw[issue] (y1499.south) -- (y1499.south |- 0,2175) -| (claudia.north);
\draw[issue] (y1499.south) -- (y1499.south |- 0,2175) -| (renee.north);
\draw[issue] (y1514.south) -- (y1514.south |- kings.north);
\end{tikzpicture}
\end{document}
